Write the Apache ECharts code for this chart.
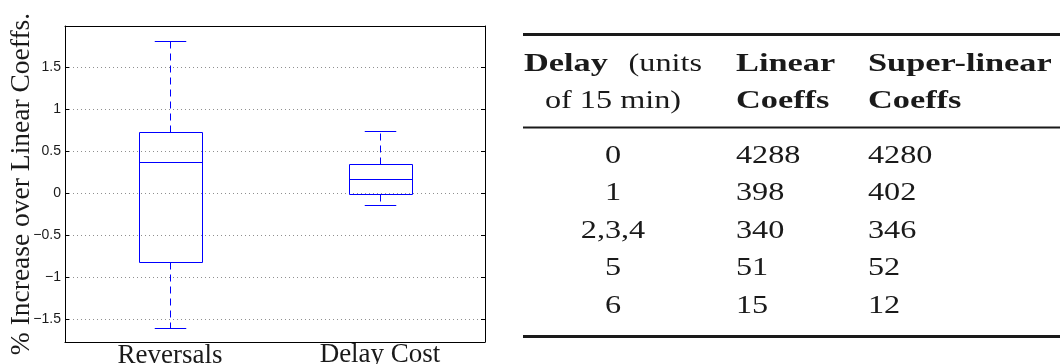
<!DOCTYPE html>
<html>
<head>
<meta charset="utf-8">
<script src="https://cdn.jsdelivr.net/npm/echarts@6/dist/echarts.min.js"></script>
<style>
  html, body { margin: 0; padding: 0; background: #fff; }
  #chart { width: 1060px; height: 364px; }
</style>
</head>
<body>
<div id="chart"></div>
<script>
// Box-plot summaries (whisker ends, quartiles, median) per cost model
const categories  = ['Reversals', 'Delay Cost'];
const whiskerLow  = [-1.611, -0.143];
const quartile1   = [-0.825, -0.012];
const medians     = [0.369, 0.163];
const quartile3   = [0.730, 0.345];
const whiskerHigh = [1.813, 0.734];
const yTicks      = [-1.5, -1, -0.5, 0, 0.5, 1, 1.5];
const yLimits     = [-1.774, 1.988];
const yAxisTitle  = '% Increase over Linear Coeffs.';

// Table: number of coefficients per delay bucket
const headerDelay = ['Delay', '(units', 'of 15 min)'];
const headerCol2  = ['Linear', 'Coeffs'];
const headerCol3  = ['Super-linear', 'Coeffs'];
const delays            = ['0', '1', '2,3,4', '5', '6'];
const linearCoeffs      = [4288, 398, 340, 51, 15];
const superLinearCoeffs = [4280, 402, 346, 52, 12];

const BLUE = '#0000ff';
const INK = '#1a1a1a';
const SERIF = 'Liberation Serif';
const SANS = 'Liberation Sans';
const crisp = v => Math.round(v) + 0.5;
const fmtTick = v => (v < 0 ? '\u2212' + Math.abs(v) : String(v));

function renderBox(params, api) {
  const xi = api.value(0);
  const pLow = api.coord([xi, api.value(1)]);
  const pQ1 = api.coord([xi, api.value(2)]);
  const pMed = api.coord([xi, api.value(3)]);
  const pQ3 = api.coord([xi, api.value(4)]);
  const pHigh = api.coord([xi, api.value(5)]);
  const band = api.size([1, 0])[0];
  const half = band * 0.15;
  const cap = half / 2;
  const cx = crisp(pMed[0]);
  const xl = crisp(pMed[0] - half), xr = crisp(pMed[0] + half);
  const yq1 = crisp(pQ1[1]), yq3 = crisp(pQ3[1]), ym = crisp(pMed[1]);
  const yl = crisp(pLow[1]), yh = crisp(pHigh[1]);
  const solid = { stroke: BLUE, lineWidth: 1 };
  const dashed = { stroke: BLUE, lineWidth: 1, lineDash: [7, 5] };
  return {
    type: 'group',
    children: [
      { type: 'line', shape: { x1: cx, y1: yq3, x2: cx, y2: yh }, style: dashed },
      { type: 'line', shape: { x1: cx, y1: yq1, x2: cx, y2: yl }, style: dashed },
      { type: 'line', shape: { x1: cx - cap, y1: yh, x2: cx + cap, y2: yh }, style: solid },
      { type: 'line', shape: { x1: cx - cap, y1: yl, x2: cx + cap, y2: yl }, style: solid },
      { type: 'rect', shape: { x: xl, y: yq3, width: xr - xl, height: yq1 - yq3 },
        style: { stroke: BLUE, lineWidth: 1, fill: 'none' } },
      { type: 'line', shape: { x1: xl, y1: ym, x2: xr, y2: ym }, style: solid }
    ]
  };
}

// Table layout
const FS = 26;
const SX_REG = 1.24, SX_BOLD = 1.32;
const colX = [613, 736, 868];
const headBase = [73, 110];
const rowBase0 = 165, rowPitch = 37.5;

function cell(text, x, base, align, bold) {
  return {
    type: 'text', x: x, y: base - 0.34 * FS, scaleX: bold ? SX_BOLD : SX_REG, silent: true,
    style: {
      text: String(text), align: align, verticalAlign: 'middle',
      fontFamily: SERIF, fontSize: FS, fontWeight: bold ? 'bold' : 'normal', fill: INK
    }
  };
}
function rule(y, h) {
  return { type: 'rect', silent: true, shape: { x: 523, y: y, width: 537, height: h }, style: { fill: INK } };
}

const tableItems = [rule(33, 3), rule(126.5, 2), rule(335, 3)];
tableItems.push(cell(headerDelay[0], 524, headBase[0], 'left', true));
tableItems.push(cell(headerDelay[1], 702, headBase[0], 'right', false));
tableItems.push(cell(headerDelay[2], colX[0], headBase[1], 'center', false));
headerCol2.forEach((t, r) => tableItems.push(cell(t, colX[1], headBase[r], 'left', true)));
headerCol3.forEach((t, r) => tableItems.push(cell(t, colX[2], headBase[r], 'left', true)));
delays.forEach((d, r) => {
  const base = rowBase0 + r * rowPitch;
  tableItems.push(cell(d, colX[0], base, 'center', false));
  tableItems.push(cell(linearCoeffs[r], colX[1], base, 'left', false));
  tableItems.push(cell(superLinearCoeffs[r], colX[2], base, 'left', false));
});

const frameLine = { show: true, onZero: false, lineStyle: { color: '#000', width: 1 } };

const chart = echarts.init(document.getElementById('chart'), null, { renderer: 'canvas' });
chart.setOption({
  animation: false,
  backgroundColor: '#fff',
  grid: { left: 65, right: 575, top: 26, bottom: 22, containLabel: false, outerBoundsMode: 'none' },
  xAxis: [
    {
      type: 'category', data: categories, boundaryGap: true, position: 'bottom',
      axisLine: frameLine,
      axisTick: { show: false },
      splitLine: { show: false },
      axisLabel: {
        margin: 3,
        hideOverlap: false,
        formatter: (v, i) => (i === 0 ? '{r|' + v + '}' : '{d|' + v + '}'),
        rich: {
          r: { fontFamily: SERIF, fontSize: 27, color: INK, lineHeight: 22 },
          d: { fontFamily: SERIF, fontSize: 27, color: INK, lineHeight: 17, padding: [2, 0, 0, 0] }
        }
      }
    },
    {
      type: 'category', data: categories, position: 'top',
      axisLine: frameLine,
      axisTick: { show: false }, axisLabel: { show: false }, splitLine: { show: false }
    }
  ],
  yAxis: [
    {
      type: 'value', min: yLimits[0], max: yLimits[1], position: 'left',
      name: yAxisTitle, nameLocation: 'middle', nameGap: 29, nameMoveOverlap: false,
      nameTextStyle: { fontFamily: SERIF, fontSize: 27.5, color: INK },
      axisLine: frameLine,
      axisTick: { show: true, inside: true, length: 4, customValues: yTicks, lineStyle: { color: '#000' } },
      axisLabel: { customValues: yTicks, formatter: fmtTick, fontFamily: SANS, fontSize: 14, color: INK, margin: 4 },
      splitLine: { show: true, lineStyle: { color: '#8f8f8f', width: 1, type: [1, 3] } }
    },
    {
      type: 'value', min: yLimits[0], max: yLimits[1], position: 'right',
      axisLine: frameLine,
      axisTick: { show: true, inside: true, length: 4, customValues: yTicks, lineStyle: { color: '#000' } },
      axisLabel: { show: false },
      splitLine: { show: false }
    }
  ],
  series: [
    {
      type: 'custom', xAxisIndex: 0, yAxisIndex: 0, silent: true,
      renderItem: renderBox,
      encode: { x: 0, y: [1, 2, 3, 4, 5] },
      data: categories.map((c, i) => [i, whiskerLow[i], quartile1[i], medians[i], quartile3[i], whiskerHigh[i]])
    }
  ],
  graphic: tableItems
});
</script>
</body>
</html>
